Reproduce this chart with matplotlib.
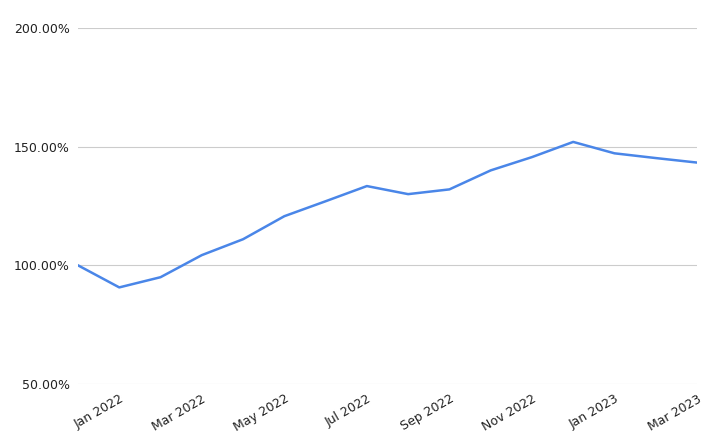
import matplotlib
matplotlib.use("Agg")
import matplotlib.pyplot as plt
from matplotlib.ticker import FuncFormatter

months = ["Dec 2021","Jan 2022","Feb 2022","Mar 2022","Apr 2022","May 2022","Jun 2022","Jul 2022",
          "Aug 2022","Sep 2022","Oct 2022","Nov 2022","Dec 2022","Jan 2023","Feb 2023","Mar 2023"]
values = [100, 90.7, 95, 104.3, 111, 120.7, 127, 133.4, 130, 132, 140, 145.6, 152, 147.2, 145.2, 143.3]
yticks = [50, 100, 150, 200]

fig = plt.figure(figsize=(7.2, 4.46), dpi=100)
ax = fig.add_axes([78/720, 1-384/446, (697-78)/720, (384-28)/446])
x = list(range(len(months)))
ax.plot(x, values, color="#4a86e8", linewidth=1.8)
ax.set_xlim(0, len(months)-1)
ax.set_ylim(50, 200)
ax.set_yticks(yticks)
ax.yaxis.set_major_formatter(FuncFormatter(lambda v, p: f"{v:.2f}%"))
ax.grid(axis="y", color="#cccccc", linewidth=0.8)
ax.set_axisbelow(True)
tick_idx = list(range(1, len(months), 2))
ax.set_xticks(tick_idx)
ax.set_xticklabels([months[i] for i in tick_idx], rotation=30, ha="right", rotation_mode="anchor")
for s in ax.spines.values():
    s.set_visible(False)
ax.tick_params(length=0, labelsize=9, colors="#222222")
ax.tick_params(axis="y", pad=6)
ax.tick_params(axis="x", pad=6)
fig.savefig("out.png", dpi=100)
